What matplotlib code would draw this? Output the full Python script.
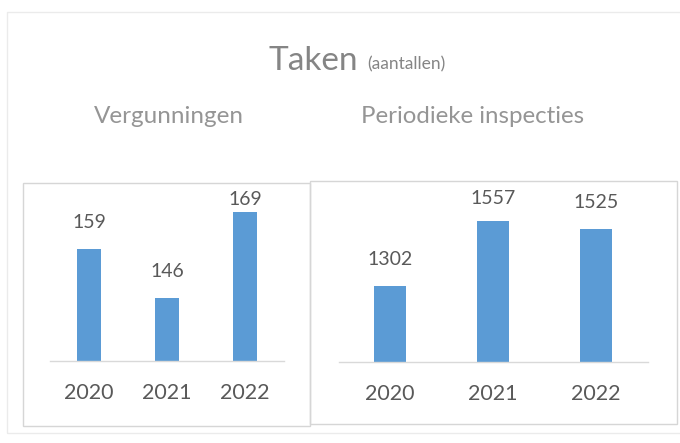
import matplotlib
matplotlib.use("Agg")
import matplotlib.pyplot as plt
from matplotlib.patches import Rectangle

years = ["2020", "2021", "2022"]
vergunningen = [159, 146, 169]
inspecties = [1302, 1557, 1525]

title_main = "Taken"
title_sub = "(aantallen)"
panel_titles = ["Vergunningen", "Periodieke inspecties"]

W, H = 680, 443
plt.rcParams['font.family'] = ['Lato', 'DejaVu Sans']
fig = plt.figure(figsize=(W / 100, H / 100), dpi=100)
fig.patch.set_facecolor("white")

def fx(px):
    return px / W

def fy(py):
    return 1 - py / H

def frame(x0, y0, x1, y1, color, lw=1.0):
    fig.patches.append(Rectangle((fx(x0), fy(y1)), fx(x1 - x0), (y1 - y0) / H,
                                 transform=fig.transFigure, fill=False,
                                 edgecolor=color, linewidth=lw))

# outer frame and panel frames
frame(7, 12, 690, 433, "#ebebeb")
frame(23, 183, 310, 426, "#d6d6d6")
frame(310, 181, 677, 424, "#d6d6d6")

fig.text(fx(313), fy(70), title_main, fontsize=24, color="#858585",
         ha="center", va="baseline")
fig.text(fx(367), fy(69), title_sub, fontsize=12.5, color="#858585",
         ha="left", va="baseline")
fig.text(fx(169), fy(123), panel_titles[0], fontsize=17.5, color="#959595",
         ha="center", va="baseline")
fig.text(fx(473), fy(123), panel_titles[1], fontsize=17.3, color="#959595",
         ha="center", va="baseline")

bar_color = "#5b9bd5"
txt_color = "#595959"

def panel(left, right, top, base, values, ymin, ymax, cap, gap):
    ax = fig.add_axes([fx(left), fy(base), fx(right - left), (base - top) / H])
    x = list(range(len(values)))
    ax.bar(x, values, width=0.31, color=bar_color, zorder=2)
    ax.set_xlim(-0.5, 2.5)
    ax.set_ylim(ymin, ymax)
    for s in ["top", "right", "left"]:
        ax.spines[s].set_visible(False)
    ax.spines["bottom"].set_color("#d9d9d9")
    ax.spines["bottom"].set_linewidth(1.0)
    ax.set_yticks([])
    ax.set_xticks(x)
    ax.set_xticklabels(years, fontsize=15.5, color=txt_color)
    ax.tick_params(axis="x", length=0, pad=16)
    ax.patch.set_alpha(0)
    for xi, v in zip(x, values):
        ty = min(v + gap, cap)
        ax.text(xi, ty, str(v), ha="center", va="bottom", fontsize=14,
                color=txt_color, clip_on=False)
    return ax

# left panel: 3.725 px per unit, baseline at 361 px
panel(50, 284, 190, 361, vergunningen, 129, 129 + 171 / 3.725,
      129 + (361 - 208) / 3.725, 18 / 3.725)
# right panel: 0.253 px per unit, baseline at 362 px
panel(338.5, 647.5, 190, 362, inspecties, 1000, 1000 + 172 / 0.253,
      1000 + (362 - 207) / 0.253, 18 / 0.253)

fig.savefig("out.png", dpi=100, facecolor="white")
